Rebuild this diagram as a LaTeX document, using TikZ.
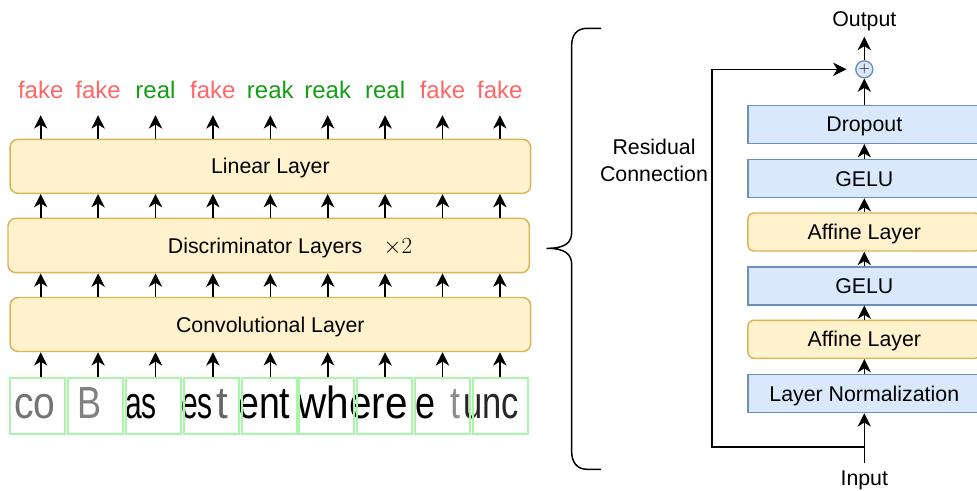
\documentclass[tikz,border=0pt]{standalone}
\usepackage{fontspec}
\setmainfont{Liberation Sans}
\usetikzlibrary{arrows.meta,calc}
\definecolor{yfill}{HTML}{FFF2CC}
\definecolor{ydraw}{HTML}{D6B656}
\definecolor{bfill}{HTML}{DAE8FC}
\definecolor{bdraw}{HTML}{6C8EBF}
\definecolor{cellgreen}{HTML}{A9F5A9}
\definecolor{fakecol}{HTML}{FF6666}
\definecolor{realcol}{HTML}{139E13}
\begin{document}
\begin{tikzpicture}[x=0.75pt,y=-0.75pt,
  lbl/.style={font=\fontsize{16}{19}\selectfont},
  boxtext/.style={lbl, text height=11.5pt, text depth=0pt},
  ybox/.style={draw=ydraw, fill=yfill, line width=1.1pt, rounded corners=6pt, boxtext, inner sep=0pt},
  bbox/.style={draw=bdraw, fill=bfill, line width=1.1pt, boxtext, inner sep=0pt, minimum width=174.5pt, minimum height=28.5pt},
  yrbox/.style={ybox, rounded corners=4.5pt, minimum width=174.5pt, minimum height=28.5pt},
  arr/.style={line width=1.2pt, -{Stealth[length=10pt,width=10pt,inset=3pt]}},
  outlbl/.style={font=\fontsize{18}{21}\selectfont, anchor=base, inner xsep=0pt, inner ysep=12.5pt, text depth=0pt},
  cellbox/.style={draw=cellgreen, line width=1.5pt, minimum width=41.25pt, minimum height=42pt, anchor=north west, inner sep=0pt},
  ghost/.style={anchor=base west, inner sep=0pt, font=\fontsize{22.5}{22.5}\selectfont}
]
\useasboundingbox (0,0) rectangle (977,490);

% ---------- left stack ----------
\node[ybox, minimum width=390.5pt, minimum height=40.5pt] (lin) at (270.35,166.3) {Linear Layer};
\node[ybox, minimum width=391pt, minimum height=40.8pt] (disc) at (268.65,245.5) {\hspace*{32pt}Discriminator Layers\hspace{16pt}$\times 2$};
\node[ybox, minimum width=390.5pt, minimum height=40.5pt] (conv) at (270.35,324.5) {Convolutional Layer};

% output labels
\foreach \i/\w/\c in {0/fake/fakecol,1/fake/fakecol,2/real/realcol,3/fake/fakecol,4/reak/realcol,5/reak/realcol,6/real/realcol,7/fake/fakecol,8/fake/fakecol}
  \node[outlbl, text=\c] (l\i) at ({40.7+57.4*\i},98.3) {\w};

% text image strip
\begin{scope}
\clip (9.3,377.3) rectangle (526.5,433.3);
\node[ghost, text=black!55] (g2) at (14,418.3) {\scalebox{1.3}[1.5]{co}};
\node[ghost, text=black!50] (g4) at (77,418.3) {\scalebox{1.2}[1.5]{B}};
\node[ghost, text=black] (g5) at (125,418.3) {\scalebox{1}[1.5]{as}};
\node[ghost, text=black] (g7) at (181,418.3) {\scalebox{1}[1.5]{es}};
\node[ghost, text=black!60] (g8) at (216,418.3) {\scalebox{1.4}[1.5]{t}};
\node[ghost, text=black] (g9) at (238,418.3) {\scalebox{1.25}[1.5]{ent}};
\node[ghost, text=black] (g10) at (297,418.3) {\scalebox{1.35}[1.5]{where}};
\node[ghost, text=black] (g11) at (415,418.3) {\scalebox{1.2}[1.5]{e}};
\node[ghost, text=black!45] (g12) at (450,418.3) {\scalebox{1.2}[1.5]{t}};
\node[ghost, text=black!85] (g13) at (463,418.3) {\scalebox{1.15}[1.5]{unc}};
\end{scope}
\foreach \i in {0,...,8}
  \node[cellbox] (c\i) at ({9.3+57.8*\i},377.3) {};

% arrows left
\foreach \i in {0,...,8}{
  \draw[arr] (l\i |- c\i.north) -- (l\i |- conv.south);
  \draw[arr] (l\i |- conv.north) -- (l\i |- disc.south);
  \draw[arr] (l\i |- disc.north) -- (l\i |- lin.south);
  \draw[arr] (l\i |- lin.north) -- (l\i.south);
}

% ---------- brace ----------
\draw[line width=1.1pt, line join=round]
  (601,28.3) -- (587,28.3) .. controls (577,28.3) and (571.7,35) .. (571.7,45)
  -- (571.7,232) .. controls (571.7,243) and (565,248.3) .. (547,248.3)
  .. controls (565,248.3) and (571.7,254) .. (571.7,265)
  -- (571.7,452) .. controls (571.7,462) and (577,469.3) .. (587,469.3) -- (601,469.3);

% ---------- right block ----------
\node[bbox] (drop) at (864.3,124.3) {Dropout};
\node[bbox] (g1r) at (864.3,178.4) {GELU};
\node[yrbox] (a1) at (864.3,232) {Affine Layer};
\node[bbox] (g2r) at (864.3,285.8) {GELU};
\node[yrbox] (a2) at (864.3,339.3) {Affine Layer};
\node[bbox] (ln) at (864.3,393.5) {Layer Normalization};

\node[circle, draw=bdraw, fill=bfill, line width=1pt, minimum size=12.75pt, inner sep=0pt, font=\fontsize{11}{11}\selectfont] (plus) at (864.3,69.3) {$+$};
\node[lbl, anchor=base, inner xsep=0pt, inner ysep=4.6pt] (out) at (864.3,26) {Output};
\node[lbl, anchor=base, inner xsep=0pt, inner ysep=5.2pt] (inp) at (864.3,485) {Input};
\node[lbl, align=center, inner sep=0pt, font=\fontsize{16}{20}\selectfont] (res) at (654,160.6) {Residual\\Connection};

\coordinate (split) at (864.3,446.7);
\coordinate (rc) at (711.7,446.7);

\draw[arr] (inp.north) -- (ln.south);
\draw[arr] (ln.north) -- (a2.south);
\draw[arr] (a2.north) -- (g2r.south);
\draw[arr] (g2r.north) -- (a1.south);
\draw[arr] (a1.north) -- (g1r.south);
\draw[arr] (g1r.north) -- (drop.south);
\draw[arr] (drop.north) -- (plus.south);
\draw[arr] (plus.north) -- (out.south);
\draw[arr, shorten >=6.5pt] (split) -- (rc) |- (plus.west);
\end{tikzpicture}
\end{document}
